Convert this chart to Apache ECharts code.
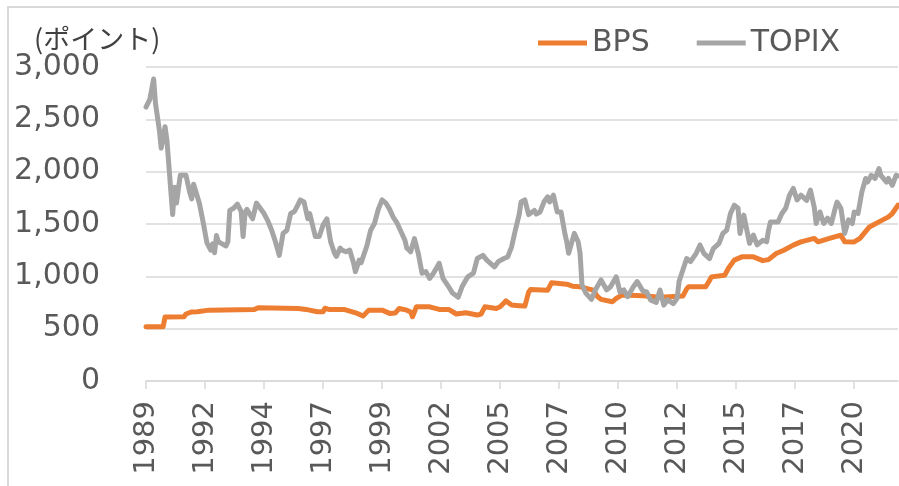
<!DOCTYPE html>
<html>
<head>
<meta charset="utf-8">
<script src="https://cdn.jsdelivr.net/npm/echarts@6/dist/echarts.min.js"></script>
<style>
  html, body { margin: 0; padding: 0; background: #ffffff; }
  #chart { width: 899px; height: 486px; }
</style>
</head>
<body>
<div id="chart"></div>
<script>
// x positions are months counted from Aug 1989
const xTickMonths = [0, 31, 62, 93, 124, 155, 186, 217, 248, 279, 310, 341, 372];
const xTickLabels = ["1989", "1992", "1994", "1997", "1999", "2002", "2005", "2007", "2010", "2012", "2015", "2017", "2020"];
const yTicks = [0, 500, 1000, 1500, 2000, 2500, 3000];

const topixMonth = [0, 2, 4, 5, 7, 8, 10, 11, 14, 15, 16, 18, 21, 23, 24, 25, 28, 30, 32, 34, 35, 36, 37, 38, 40, 42, 43, 44, 46, 48, 50, 51, 52, 53, 54, 56, 58, 60, 62, 64,
  66, 68, 70, 72, 74, 76, 78, 80, 81, 83, 85, 86, 88, 89, 91, 93, 95, 97, 99, 100, 102, 103, 105, 107, 109, 110, 112, 113, 114, 116, 118, 120, 122, 124, 126, 128, 130,
  132, 133, 136, 137, 139, 141, 143, 145, 147, 149, 151, 154, 156, 159, 161, 164, 166, 169, 172, 174, 177, 179, 180, 183, 185, 188, 190, 192, 194, 196, 197, 199,
  201, 204, 205, 207, 209, 211, 212, 214, 216, 218, 220, 221, 222, 225, 227, 228, 229, 231, 234, 236, 239, 242, 244, 247, 249, 251, 253, 256, 258, 259, 261,
  263, 265, 268, 270, 272, 274, 277, 279, 280, 282, 284, 286, 289, 291, 293, 296, 298, 301, 303, 305, 307, 309, 311, 312, 314, 315, 317, 319, 321, 324, 326,
  327, 328, 332, 334, 336, 338, 340, 342, 344, 347, 349, 351, 352, 354, 356, 358, 360, 362, 363, 365, 367, 369, 371, 372, 374, 376, 378, 379, 381, 383, 385,
  386, 389, 390, 392, 394, 395];
const topixValue = [2617, 2690, 2885, 2650, 2400, 2225, 2430, 2300, 1590, 1850, 1700, 1965, 1965, 1800, 1740, 1880, 1700, 1520, 1320, 1250, 1310, 1225, 1390, 1330, 1310, 1290, 1330, 1630, 1650, 1690, 1620, 1380, 1600, 1640, 1630, 1550, 1700, 1650, 1600, 1530,
  1440, 1330, 1200, 1410, 1440, 1600, 1620, 1690, 1730, 1710, 1550, 1600, 1450, 1380, 1380, 1490, 1550, 1330, 1220, 1190, 1270, 1250, 1235, 1250, 1130, 1045, 1155, 1130, 1120, 1290, 1440, 1505, 1640, 1730, 1700, 1640, 1560,
  1505, 1520, 1345, 1270, 1235, 1360, 1220, 1030, 1045, 980, 1030, 1125, 980, 900, 840, 800, 900, 995, 1030, 1170, 1200, 1155, 1170, 1090, 1140, 1170, 1185, 1280, 1440, 1590, 1710, 1730,
  1590, 1630, 1595, 1615, 1710, 1760, 1710, 1775, 1615, 1615, 1410, 1330, 1220, 1410, 1330, 1220, 920, 840, 780, 870, 965, 870, 900, 995, 850, 870, 805, 900, 950, 960, 860,
  850, 775, 750, 870, 725, 775, 740, 790, 950, 1060, 1170, 1140, 1220, 1300, 1220, 1170, 1265, 1315, 1410, 1440, 1600, 1680, 1650, 1410, 1585, 1570, 1315, 1395, 1300, 1345, 1330,
  1440, 1520, 1520, 1600, 1650, 1775, 1840, 1730, 1775, 1725, 1825, 1660, 1505, 1615, 1505, 1555, 1505, 1650, 1710, 1650, 1410, 1540, 1505, 1615, 1600, 1805, 1935, 1900, 1965, 1935, 2030,
  1965, 1900, 1935, 1870, 1965, 1960];

const bpsMonth = [0, 9, 10, 20, 21, 24, 27, 33, 57, 59, 80, 84, 90, 93, 94, 96, 104, 111, 114, 115, 117, 124, 128, 131, 133, 137, 139, 140, 142, 149, 154, 159, 163, 168, 174, 176, 178,
  184, 186, 188, 189, 192, 196, 199, 201, 202, 211, 213, 221, 224, 228, 235, 237, 239, 245, 247, 250, 261, 270, 282, 284, 285, 294, 296, 297, 304, 306, 309, 313, 319, 324, 327,
  331, 335, 340, 344, 351, 353, 359, 365, 367, 372, 375, 380, 385, 390, 392, 395];
const bpsValue = [518, 518, 612, 614, 640, 660, 662, 677, 684, 700, 693, 684, 662, 662, 695, 684, 684, 646, 620, 625, 677, 677, 646, 650, 693, 677, 660, 614, 709, 709, 684, 684, 640, 652, 630, 640, 709,
  693, 709, 745, 766, 725, 720, 716, 850, 875, 868, 938, 925, 906, 900, 868, 810, 780, 757, 790, 821, 815, 800, 811, 880, 900, 900, 960, 995, 1011, 1080, 1155, 1186, 1186, 1150, 1160,
  1218, 1250, 1298, 1329, 1362, 1330, 1362, 1393, 1330, 1329, 1362, 1472, 1520, 1568, 1600, 1680];

function pairs(xs, ys) {
  return xs.map((x, i) => [x, ys[i]]);
}

const textColor = "#595959";
const gridColor = "#d9d9d9";
const font = "DejaVu Sans";

const chart = echarts.init(document.getElementById("chart"));
chart.setOption({
  animation: false,
  backgroundColor: "#ffffff",
  textStyle: { fontFamily: font },
  graphic: [
    {
      type: "rect",
      shape: { x: 8, y: 7, width: 1000, height: 1000 },
      style: { fill: "none", stroke: gridColor, lineWidth: 2 },
      silent: true
    },
    {
      type: "text",
      left: 34,
      top: 25,
      style: {
        text: "(ポイント)",
        font: '27px "Noto Sans CJK JP"',
        fill: "#404040"
      }
    }
  ],
  legend: {
    left: 533,
    top: 23,
    icon: "rect",
    itemWidth: 49,
    itemHeight: 5,
    itemGap: 47,
    textStyle: { fontSize: 30, color: textColor, fontFamily: font },
    data: ["BPS", "TOPIX"]
  },
  grid: { left: 146, right: 1, top: 67, bottom: 105, containLabel: false },
  xAxis: {
    type: "value",
    min: 0,
    max: 395,
    interval: 31,
    splitLine: { show: false },
    axisLine: { show: true, lineStyle: { color: gridColor, width: 1.5 } },
    axisTick: {
      show: true,
      length: 8,
      customValues: xTickMonths,
      lineStyle: { color: gridColor, width: 1.5 }
    },
    axisLabel: {
      rotate: 90,
      margin: 20,
      fontSize: 29,
      color: textColor,
      fontFamily: font,
      customValues: xTickMonths,
      formatter: function (v) {
        const i = xTickMonths.indexOf(v);
        return i >= 0 ? xTickLabels[i] : "";
      }
    }
  },
  yAxis: {
    type: "value",
    min: yTicks[0],
    max: yTicks[yTicks.length - 1],
    interval: 500,
    axisLine: { show: false },
    axisTick: { show: false },
    splitLine: { lineStyle: { color: gridColor, width: 1.5 } },
    axisLabel: {
      margin: 46,
      fontSize: 30,
      color: textColor,
      fontFamily: font,
      formatter: function (v) {
        return v.toLocaleString("en-US");
      }
    }
  },
  series: [
    {
      name: "BPS",
      type: "line",
      data: pairs(bpsMonth, bpsValue),
      showSymbol: false,
      itemStyle: { color: "#ed7d31" },
      lineStyle: { color: "#ed7d31", width: 5, cap: "round", join: "round" }
    },
    {
      name: "TOPIX",
      type: "line",
      data: pairs(topixMonth, topixValue),
      showSymbol: false,
      itemStyle: { color: "#a5a5a5" },
      lineStyle: { color: "#a5a5a5", width: 5, cap: "round", join: "round" }
    }
  ]
});
</script>
</body>
</html>
